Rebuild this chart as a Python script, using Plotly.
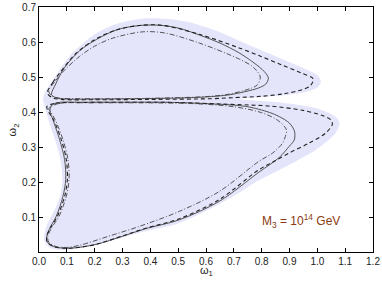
import plotly.graph_objects as go

# ---- data ----
x_ticks = [0.0, 0.1, 0.2, 0.3, 0.4, 0.5, 0.6, 0.7, 0.8, 0.9, 1.0, 1.1, 1.2]
y_ticks = [0.1, 0.2, 0.3, 0.4, 0.5, 0.6, 0.7]

# shaded allowed region (outer envelope)
region_x = [0.015, 0.035, 0.065, 0.11, 0.15, 0.2, 0.28, 0.38, 0.48, 0.56, 0.65, 0.75, 0.863, 0.95, 1.0, 1.013,
            1.0, 0.96, 0.88, 0.78, 0.72, 0.78, 0.86, 0.934, 1.0, 1.042, 1.07, 1.08, 1.066, 1.0, 0.93, 0.86,
            0.79, 0.72, 0.648, 0.504, 0.36, 0.25, 0.15, 0.086, 0.04, 0.018, 0.03, 0.056, 0.076, 0.084, 0.08, 0.066,
            0.045, 0.026, 0.015]
region_y = [0.44, 0.475, 0.51, 0.56, 0.59, 0.622, 0.652, 0.667, 0.664, 0.652, 0.628, 0.593, 0.555, 0.525, 0.505, 0.487,
            0.470, 0.458, 0.448, 0.442, 0.437, 0.432, 0.428, 0.42, 0.41, 0.397, 0.383, 0.369, 0.34, 0.295, 0.262, 0.233,
            0.205, 0.17, 0.137, 0.083, 0.055, 0.03, 0.012, 0.006, 0.012, 0.035, 0.08, 0.12, 0.16, 0.2, 0.25, 0.3,
            0.35, 0.4, 0.44]

# solid curve
solid_up_x = [0.045, 0.06, 0.09, 0.146, 0.206, 0.28, 0.36, 0.43, 0.5, 0.576, 0.65, 0.719, 0.773, 0.81, 0.824,
              0.815, 0.79, 0.74, 0.683, 0.6, 0.5, 0.35, 0.2, 0.1, 0.06, 0.045]
solid_up_y = [0.450, 0.48, 0.525, 0.575, 0.607, 0.635, 0.647, 0.648, 0.640, 0.620, 0.597, 0.569, 0.54, 0.515, 0.497,
              0.48, 0.469, 0.458, 0.449, 0.443, 0.440, 0.438, 0.437, 0.437, 0.441, 0.450]
solid_lo_x = [0.044, 0.07, 0.15, 0.3, 0.45, 0.6, 0.743, 0.827, 0.863, 0.9, 0.918, 0.917, 0.899, 0.863, 0.79, 0.648,
              0.504, 0.38, 0.3, 0.206, 0.13, 0.09, 0.055, 0.03, 0.028, 0.04, 0.062, 0.086, 0.096, 0.092, 0.074,
              0.05, 0.04, 0.044]
solid_lo_y = [0.418, 0.427, 0.428, 0.428, 0.428, 0.424, 0.416, 0.399, 0.387, 0.368, 0.345, 0.32, 0.302, 0.27, 0.228,
              0.145, 0.092, 0.066, 0.045, 0.022, 0.012, 0.011, 0.015, 0.028, 0.045, 0.07, 0.102, 0.159, 0.207, 0.264,
              0.321, 0.378, 0.40, 0.418]

# dashed curve
dash_up_x = [0.03, 0.05, 0.078, 0.13, 0.2, 0.28, 0.36, 0.44, 0.576, 0.719, 0.8, 0.87, 0.94, 0.985,
             0.975, 0.946, 0.88, 0.80, 0.7, 0.62, 0.4, 0.2, 0.08, 0.045, 0.03]
dash_up_y = [0.455, 0.485, 0.515, 0.565, 0.607, 0.635, 0.647, 0.648, 0.622, 0.583, 0.558, 0.535, 0.512, 0.495,
             0.475, 0.464, 0.452, 0.445, 0.441, 0.438, 0.436, 0.435, 0.436, 0.442, 0.455]
dash_lo_x = [0.028, 0.06, 0.15, 0.3, 0.5, 0.65, 0.755, 0.83, 0.946, 1.018, 1.048, 1.054, 1.03, 0.97, 0.899, 0.845,
             0.79, 0.648, 0.504, 0.38, 0.3, 0.206, 0.13, 0.09, 0.055, 0.03, 0.028, 0.042, 0.066, 0.092, 0.102, 0.098,
             0.08, 0.052, 0.035, 0.028]
dash_lo_y = [0.415, 0.425, 0.427, 0.428, 0.427, 0.423, 0.42, 0.417, 0.405, 0.39, 0.378, 0.365, 0.34, 0.311, 0.283, 0.259,
             0.235, 0.15, 0.095, 0.067, 0.046, 0.022, 0.012, 0.011, 0.015, 0.028, 0.045, 0.07, 0.102, 0.159, 0.207, 0.264,
             0.321, 0.378, 0.40, 0.415]

# dash-dot curve
dd_up_x = [0.035, 0.06, 0.086, 0.146, 0.2, 0.265, 0.372, 0.45, 0.576, 0.72, 0.77, 0.795, 0.785, 0.766, 0.683,
           0.6, 0.45, 0.3, 0.15, 0.07, 0.045, 0.035]
dd_up_y = [0.46, 0.49, 0.515, 0.559, 0.588, 0.611, 0.629, 0.626, 0.597, 0.551, 0.528, 0.50, 0.478, 0.469, 0.451,
           0.444, 0.440, 0.438, 0.438, 0.44, 0.447, 0.46]
dd_lo_x = [0.035, 0.07, 0.2, 0.4, 0.55, 0.7, 0.8, 0.86, 0.889, 0.885, 0.875, 0.84, 0.79, 0.648, 0.504, 0.36, 0.25,
           0.15, 0.1, 0.06, 0.035, 0.032, 0.046, 0.072, 0.098, 0.108, 0.104, 0.086, 0.058, 0.042, 0.035]
dd_lo_y = [0.41, 0.424, 0.426, 0.426, 0.424, 0.415, 0.398, 0.375, 0.349, 0.33, 0.311, 0.283, 0.259, 0.173, 0.116,
           0.073, 0.045, 0.02, 0.013, 0.016, 0.028, 0.045, 0.07, 0.102, 0.159, 0.207, 0.264, 0.321, 0.378, 0.40, 0.41]

label_text = "M<sub>3</sub> = 10<sup>14</sup> GeV"
label_x, label_y = 0.94, 0.09
x_title = "ω<sub>1</sub>"
y_title = "ω<sub>2</sub>"

FONT = "Liberation Sans, Arial, sans-serif"

fig = go.Figure()
fig.add_trace(go.Scatter(x=region_x, y=region_y, fill="toself", fillcolor="#E4E4FB",
                         line=dict(width=0, color="#E4E4FB", shape="spline", smoothing=0.8),
                         mode="lines", hoverinfo="skip"))


def add_curve(xs, ys, color, dash, width):
    fig.add_trace(go.Scatter(x=xs, y=ys, mode="lines",
                             line=dict(color=color, dash=dash, width=width, shape="spline", smoothing=0.9)))


add_curve(solid_up_x, solid_up_y, "#444444", "solid", 0.9)
add_curve(solid_lo_x, solid_lo_y, "#444444", "solid", 0.9)
add_curve(dash_up_x, dash_up_y, "#222222", "4px,3px", 1.1)
add_curve(dash_lo_x, dash_lo_y, "#222222", "4px,3px", 1.1)
add_curve(dd_up_x, dd_up_y, "#444444", "5px,2px,1px,2px", 0.9)
add_curve(dd_lo_x, dd_lo_y, "#444444", "5px,2px,1px,2px", 0.9)

fig.add_annotation(x=label_x, y=label_y, text=label_text, showarrow=False,
                   font=dict(size=12, color="#8B3A12", family=FONT))
fig.add_annotation(x=0.5, y=-0.078, xref="paper", yref="paper", text=x_title, showarrow=False,
                   xanchor="center", yanchor="middle", font=dict(size=11, color="#222222", family=FONT))
fig.add_annotation(x=-0.078, y=0.5, xref="paper", yref="paper", text=y_title, showarrow=False,
                   textangle=-90, xanchor="center", yanchor="middle",
                   font=dict(size=11, color="#222222", family=FONT))

axis_common = dict(showline=True, linecolor="black", linewidth=1, mirror="ticks", ticks="inside",
                   ticklen=4, tickcolor="black", showgrid=False, zeroline=False, automargin=False,
                   tickfont=dict(size=10, color="#222222", family=FONT))

fig.update_layout(
    width=382, height=283, showlegend=False,
    margin=dict(l=39, r=9, t=7, b=31),
    paper_bgcolor="white", plot_bgcolor="white",
    xaxis=dict(range=[0, 1.2], tickvals=x_ticks, ticktext=[f"{v:.1f}" for v in x_ticks], **axis_common),
    yaxis=dict(range=[0, 0.7], tickvals=y_ticks, ticktext=[f"{v:.1f}" for v in y_ticks], **axis_common),
)

fig.write_html("out.html", config={"displayModeBar": False},
               post_script="document.body.style.margin='0';document.body.style.padding='0';")
